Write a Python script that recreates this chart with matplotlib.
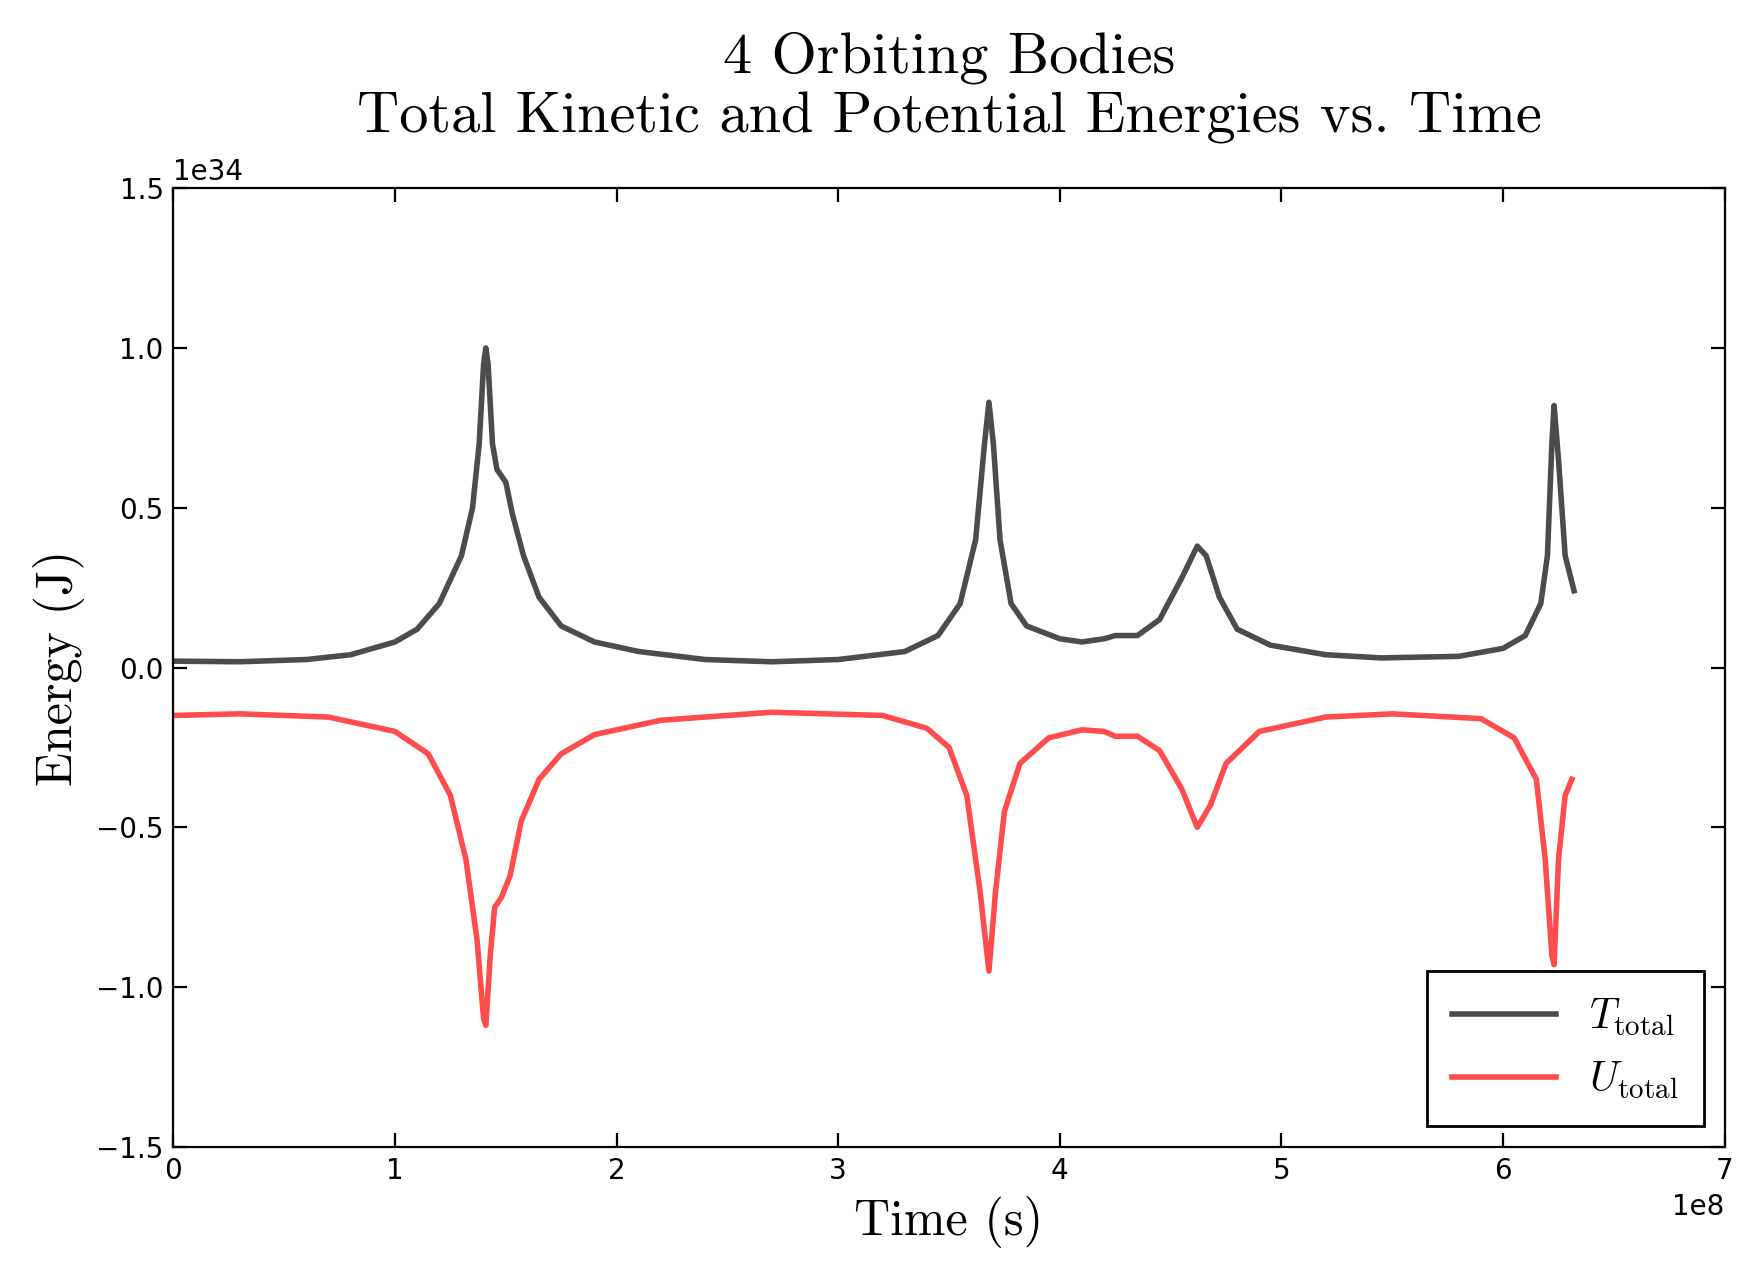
import numpy as np
import matplotlib
matplotlib.use("Agg")
import matplotlib.pyplot as plt

plt.rcParams['mathtext.fontset'] = 'cm'
plt.rcParams['axes.formatter.use_mathtext'] = False

# time in units of 1e8 s, energies in units of 1e34 J
t_time = [0, 0.3, 0.6, 0.8, 1.0, 1.1, 1.2, 1.3, 1.35, 1.38, 1.40, 1.41, 1.42, 1.44, 1.46, 1.50,
          1.53, 1.58, 1.65, 1.75, 1.9, 2.1, 2.4, 2.7, 3.0, 3.3, 3.45, 3.55, 3.62, 3.66, 3.68, 3.70,
          3.73, 3.78, 3.85, 4.0, 4.1, 4.2, 4.25, 4.35, 4.45, 4.55, 4.62, 4.66, 4.72, 4.8, 4.95,
          5.2, 5.45, 5.8, 6.0, 6.1, 6.17, 6.2, 6.22, 6.23, 6.25, 6.28, 6.32]
t_total = [0.02, 0.018, 0.025, 0.04, 0.08, 0.12, 0.2, 0.35, 0.5, 0.7, 0.95, 1.0, 0.95, 0.7, 0.62,
           0.58, 0.48, 0.35, 0.22, 0.13, 0.08, 0.05, 0.025, 0.018, 0.025, 0.05, 0.1, 0.2, 0.4, 0.7,
           0.83, 0.7, 0.4, 0.2, 0.13, 0.09, 0.08, 0.09, 0.1, 0.1, 0.15, 0.28, 0.38, 0.35, 0.22,
           0.12, 0.07, 0.04, 0.03, 0.035, 0.06, 0.1, 0.2, 0.35, 0.7, 0.82, 0.65, 0.35, 0.24]

u_time = [0, 0.3, 0.7, 1.0, 1.15, 1.25, 1.32, 1.37, 1.40, 1.41, 1.43, 1.45, 1.48, 1.52, 1.57,
          1.65, 1.75, 1.9, 2.2, 2.7, 3.2, 3.4, 3.5, 3.58, 3.64, 3.68, 3.71, 3.75, 3.82, 3.95, 4.1,
          4.2, 4.25, 4.35, 4.45, 4.55, 4.62, 4.68, 4.75, 4.9, 5.2, 5.5, 5.9, 6.05, 6.15, 6.19,
          6.22, 6.23, 6.25, 6.28, 6.31]
u_total = [-0.15, -0.145, -0.155, -0.2, -0.27, -0.4, -0.6, -0.85, -1.1, -1.12, -0.9, -0.75,
           -0.72, -0.65, -0.48, -0.35, -0.27, -0.21, -0.165, -0.14, -0.15, -0.19, -0.25, -0.4,
           -0.7, -0.95, -0.7, -0.45, -0.3, -0.22, -0.195, -0.2, -0.215, -0.215, -0.26, -0.38,
           -0.5, -0.43, -0.3, -0.2, -0.155, -0.145, -0.16, -0.22, -0.35, -0.6, -0.9, -0.93,
           -0.6, -0.4, -0.35]

fig = plt.figure(figsize=(8.755, 6.4), dpi=200)
ax = fig.add_axes([0.099, 0.104, 0.886, 0.749])
ax.plot(np.array(t_time) * 1e8, np.array(t_total) * 1e34, color='black', alpha=0.7, lw=2,
        label=r'$T_{\rm total}$')
ax.plot(np.array(u_time) * 1e8, np.array(u_total) * 1e34, color='red', alpha=0.7, lw=2,
        label=r'$U_{\rm total}$')
ax.set_xlim(0, 7e8)
ax.set_ylim(-1.5e34, 1.5e34)
ax.set_yticks(np.arange(-1.5, 1.51, 0.5) * 1e34)
ax.tick_params(direction='in', top=True, right=True, labelsize=10, length=5)
ax.set_xlabel('Time (s)', fontsize=18, fontfamily='cmr10')
ax.set_ylabel('Energy (J)', fontsize=18, fontfamily='cmr10')
ax.set_title('4 Orbiting Bodies\nTotal Kinetic and Potential Energies vs. Time',
             fontsize=21, fontfamily='cmr10', pad=20)
leg = ax.legend(loc='lower right', fontsize=15, fancybox=False, framealpha=1,
                handlelength=2.5, borderpad=0.6)
leg.get_frame().set_edgecolor('black')
fig.savefig('out.png', dpi=200)
